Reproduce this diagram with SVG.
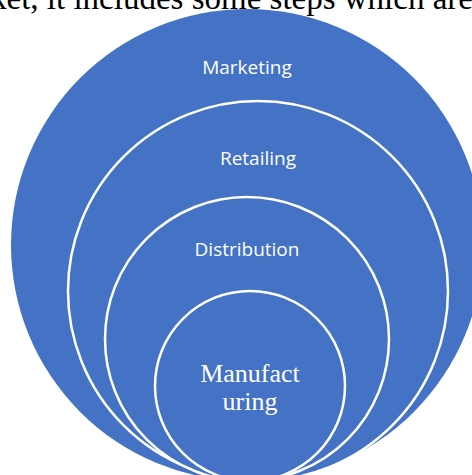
<svg xmlns="http://www.w3.org/2000/svg" width="472" height="475" viewBox="0 0 472 475">
<style>
.c{fill:#4472C4}
.r{fill:#4472C4;stroke:#fff;stroke-width:2.5}
.s{font-family:"Open Sans","Liberation Sans",sans-serif;font-size:19px;fill:#fff;text-anchor:middle}
.m{font-family:"Liberation Serif",serif;font-size:26px;fill:#fff;text-anchor:middle}
.t{font-family:"Liberation Serif",serif;font-size:33px;fill:#000}
</style>
<rect width="472" height="475" fill="#fff"/>
<text class="t" x="-10" y="9">ket, it includes some steps which are</text>
<g id="marketing">
<circle class="c" cx="247" cy="245" r="236"/>
<text class="s" x="247" y="74">Marketing</text>
</g>
<g id="retailing">
<circle class="r" cx="258" cy="291" r="190"/>
<text class="s" x="258" y="165">Retailing</text>
</g>
<g id="distribution">
<circle class="r" cx="247" cy="339" r="142"/>
<text class="s" x="247" y="256">Distribution</text>
</g>
<g id="manufacturing">
<circle class="r" cx="250" cy="386" r="95"/>
<text class="m" x="250" y="382">Manufact</text>
<text class="m" x="250" y="410">uring</text>
</g>
<g id="connectors"/>
</svg>
